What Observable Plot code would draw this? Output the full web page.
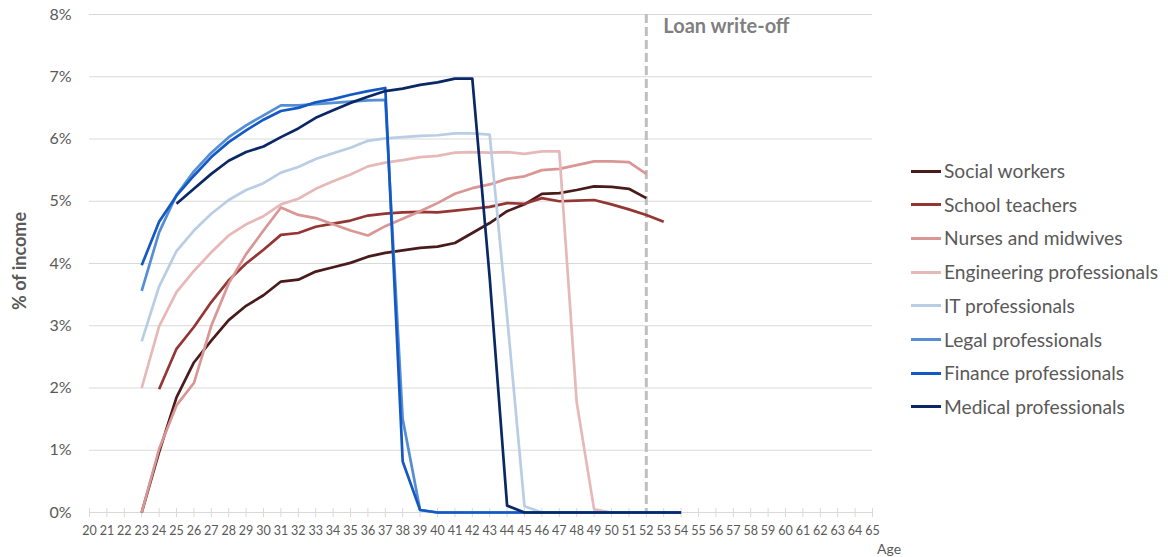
<!DOCTYPE html>
<html><head><meta charset="utf-8">
<script src="https://cdn.jsdelivr.net/npm/d3@7"></script>
<script src="https://cdn.jsdelivr.net/npm/@observablehq/plot@0.6"></script>
<style>
body{margin:0;background:#fff;font-family:Lato,"Open Sans",sans-serif;}
#wrap{position:relative;width:1168px;height:557px;overflow:hidden;}
#legend{position:absolute;left:911px;top:0;}
.item{position:absolute;left:0;display:flex;align-items:center;white-space:nowrap;font-size:19.2px;line-height:24px;height:24px;color:#595959;}
.sw{width:30px;height:3px;margin-right:3px;}
#ylab{position:absolute;left:18.5px;top:261px;transform:translate(-50%,-50%) rotate(-90deg);font-weight:bold;font-size:18px;color:#595959;white-space:nowrap;}
#age{position:absolute;left:877px;top:540px;font-size:14px;color:#595959;}
</style></head><body><div id="wrap"></div>
<script>
// ---- data ----
const ages = [23,24,25,26,27,28,29,30,31,32,33,34,35,36,37,38,39,40,41,42,43,44,45,46,47,48,49,50,51,52,53,54];
const xTicks = [20,21,22,23,24,25,26,27,28,29,30,31,32,33,34,35,36,37,38,39,40,41,42,43,44,45,46,47,48,49,50,51,52,53,54,55,56,57,58,59,60,61,62,63,64,65];
const yTicks = [0,1,2,3,4,5,6,7,8];
const seriesNames = ["Social workers","School teachers","Nurses and midwives","Engineering professionals","IT professionals","Legal professionals","Finance professionals","Medical professionals"];
const seriesColors = ["#4a1b1b","#943634","#d99694","#e6b9b8","#b9cde5","#558ed5","#1458c4","#0a2766"];
const writeOffAge = 52;

const socialWorkers = [0,0.97,1.85,2.41,2.76,3.09,3.32,3.49,3.71,3.74,3.87,3.94,4.01,4.11,4.17,4.21,4.25,4.27,4.33,4.49,4.65,4.84,4.95,5.12,5.13,5.18,5.24,5.23,5.2,5.05,null,null];
const schoolTeachers = [null,1.98,2.63,2.98,3.38,3.73,4.0,4.22,4.46,4.49,4.59,4.64,4.69,4.77,4.8,4.82,4.83,4.82,4.85,4.88,4.91,4.97,4.96,5.05,5.0,5.01,5.02,4.95,4.87,4.78,4.67,null];
const nurses = [0,1.02,1.72,2.08,3.0,3.68,4.15,4.53,4.9,4.78,4.73,4.63,4.53,4.45,4.6,4.72,4.84,4.97,5.12,5.21,5.27,5.36,5.4,5.5,5.52,5.58,5.64,5.64,5.63,5.44,null,null];
const engineering = [2.0,2.99,3.54,3.88,4.18,4.45,4.63,4.76,4.95,5.04,5.2,5.32,5.43,5.56,5.62,5.66,5.71,5.73,5.78,5.79,5.78,5.79,5.76,5.8,5.8,1.77,0.05,0,0,0,0,0];
const itProf = [2.75,3.63,4.2,4.53,4.8,5.02,5.18,5.29,5.46,5.55,5.68,5.77,5.86,5.97,6.01,6.03,6.05,6.06,6.09,6.09,6.07,3.15,0.1,0,0,0,0,0,0,0,0,0];
const legal = [3.56,4.5,5.1,5.48,5.78,6.03,6.22,6.38,6.54,6.54,6.56,6.58,6.6,6.62,6.63,1.5,0.04,0,0,0,0,0,0,0,0,0,0,0,0,0,0,0];
const finance = [3.97,4.67,5.09,5.41,5.71,5.95,6.14,6.31,6.45,6.5,6.59,6.64,6.71,6.77,6.82,0.82,0.04,0,0,0,0,0,0,0,0,0,0,0,0,0,0,0];
const medical = [null,null,4.96,5.2,5.44,5.65,5.79,5.88,6.03,6.17,6.34,6.46,6.58,6.68,6.77,6.81,6.87,6.91,6.97,6.97,3.77,0.11,0,0,0,0,0,0,0,0,0,0];

// ---- build table ----
const seriesValues = [socialWorkers, schoolTeachers, nurses, engineering, itProf, legal, finance, medical];
const rows = [];
seriesValues.forEach((vals, i) => {
  vals.forEach((v, j) => { if (v !== null) rows.push({series: seriesNames[i], age: ages[j], value: v}); });
});

const chart = Plot.plot({
  width: 1168, height: 557,
  marginLeft: 89, marginRight: 296, marginTop: 14, marginBottom: 45,
  style: {fontFamily: "Lato, 'Open Sans', sans-serif", color: "#595959", background: "#fff"},
  x: {domain: [20, 65]},
  y: {domain: [0, 8]},
  color: {domain: seriesNames, range: seriesColors},
  marks: [
    Plot.gridY(yTicks, {stroke: "#d9d9d9", strokeOpacity: 1, strokeWidth: 1}),
    Plot.axisY(yTicks, {tickSize: 0, tickPadding: 18, fontSize: 16, tickFormat: d => d + "%", label: null, fill: "#595959"}),
    Plot.axisX(xTicks, {tickSize: 5, tickPadding: 9, fontSize: 12.5, tickFormat: d => String(d), label: null, stroke: "#d9d9d9", strokeOpacity: 1, fill: "#595959"}),
    Plot.axisX(xTicks, {tickSize: -4, tickFormat: () => "", label: null, stroke: "#d9d9d9", strokeOpacity: 1}),
    Plot.ruleY([0], {stroke: "#d9d9d9", strokeWidth: 1}),
    Plot.ruleX([writeOffAge], {stroke: "#bfbfbf", strokeWidth: 3, strokeDasharray: "9,4"}),
    Plot.text(["Loan write-off"], {x: writeOffAge, y: 8, dx: 17, dy: 12, textAnchor: "start", fontWeight: "bold", fontSize: 20, fill: "#7f7f7f"}),
    Plot.line(rows, {x: "age", y: "value", z: "series", stroke: "series", strokeWidth: 2.7, strokeLinejoin: "round", strokeLinecap: "butt"})
  ]
});

const wrap = document.getElementById("wrap");
wrap.appendChild(chart);

const ylab = document.createElement("div");
ylab.id = "ylab"; ylab.textContent = "% of income";
wrap.appendChild(ylab);

const age = document.createElement("div");
age.id = "age"; age.textContent = "Age";
wrap.appendChild(age);

const legend = document.createElement("div");
legend.id = "legend";
seriesNames.forEach((name, i) => {
  const item = document.createElement("div");
  item.className = "item";
  item.style.top = (171 + i * 33.7 - 12) + "px";
  const sw = document.createElement("span");
  sw.className = "sw"; sw.style.background = seriesColors[i];
  const tx = document.createElement("span");
  tx.textContent = name;
  item.appendChild(sw); item.appendChild(tx);
  legend.appendChild(item);
});
wrap.appendChild(legend);
</script>
</body></html>
